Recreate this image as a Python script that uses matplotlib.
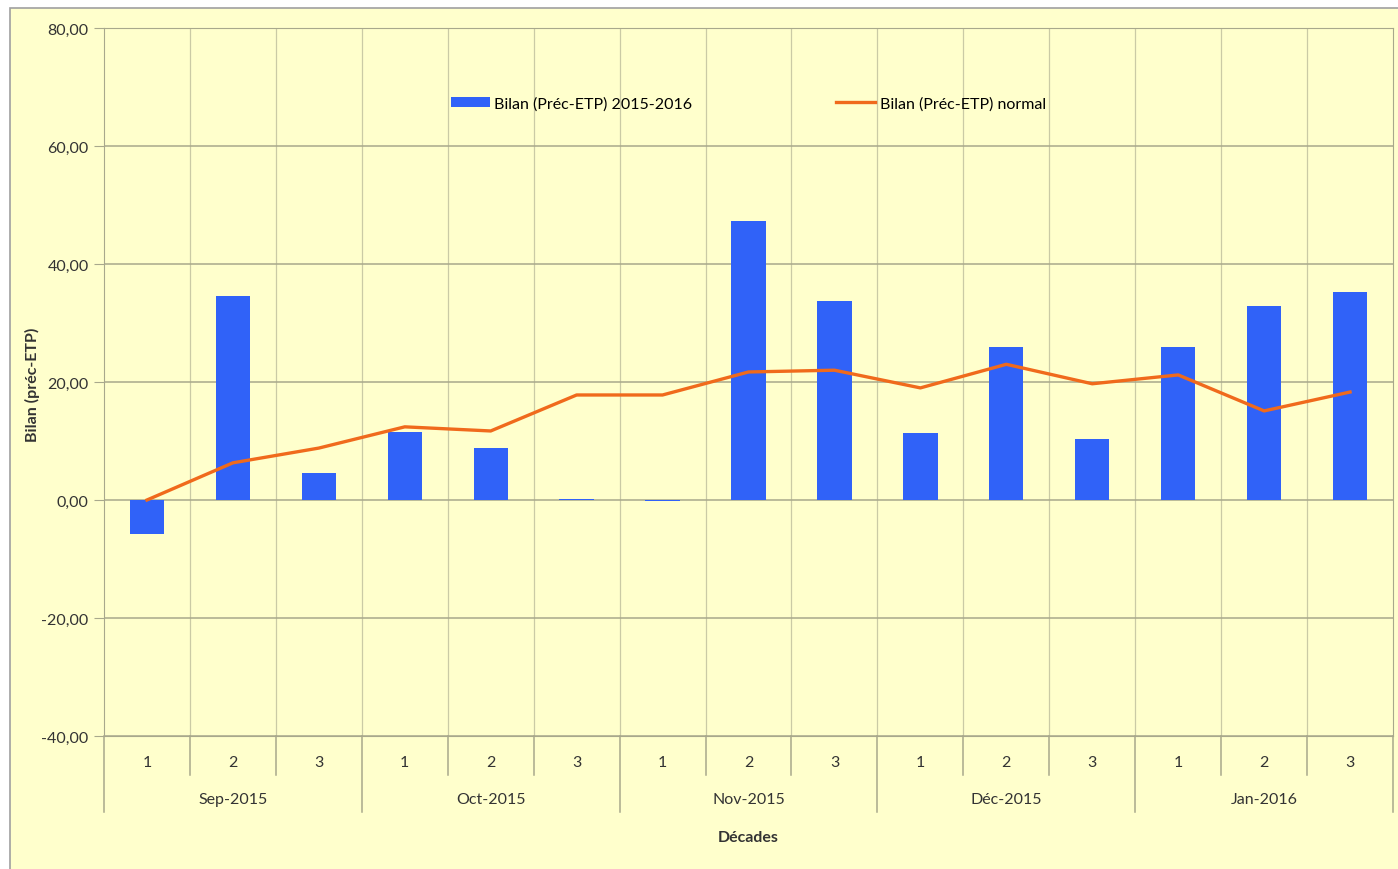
import numpy as np
import matplotlib.pyplot as plt
import matplotlib.transforms as mtransforms
from matplotlib.patches import Rectangle

# Données
mois = ['Sep-2015', 'Oct-2015', 'Nov-2015', 'Déc-2015', 'Jan-2016']
decades = ['1', '2', '3']
bilan_2015_2016 = [-5.7, 34.6, 4.6, 11.5, 8.8, 0.2, -0.2, 47.3, 33.7,
                   11.4, 25.9, 10.3, 25.9, 32.9, 35.3]
bilan_normal = [0.0, 6.3, 8.8, 12.4, 11.7, 17.8, 17.8, 21.7, 22.0,
                19.0, 23.0, 19.7, 21.2, 15.1, 18.3]
y_ticks = [-40, -20, 0, 20, 40, 60, 80]

fond = '#FFFFCC'
grille = '#A8A88C'
bleu = '#3062F8'
orange = '#F06A1C'

plt.rcParams['font.family'] = ['Lato', 'DejaVu Sans']

fig = plt.figure(figsize=(13.98, 8.70), dpi=100, facecolor='white')
cadre = Rectangle((10 / 1398, -0.01), 1.0, 1 - 9 / 870 + 0.01,
                  transform=fig.transFigure, facecolor=fond,
                  edgecolor='#A0A0A0', linewidth=1.2, zorder=-10)
fig.add_artist(cadre)

ax = fig.add_axes([104 / 1398, 1 - 737 / 870, (1393 - 104) / 1398, 708 / 870])
ax.set_zorder(5)
ax.set_facecolor(fond)

n = len(bilan_2015_2016)
x = np.arange(n)
barres = ax.bar(x, bilan_2015_2016, width=0.4, color=bleu, zorder=3,
                label='Bilan (Préc-ETP) 2015-2016')
ligne, = ax.plot(x, bilan_normal, color=orange, linewidth=2.4, zorder=4,
                 label='Bilan (Préc-ETP) normal')

ax.set_xlim(-0.5, n - 0.5)
ax.set_ylim(-40, 80)
ax.set_yticks(y_ticks)
ax.set_yticklabels([f'{v:.2f}'.replace('.', ',') for v in y_ticks])
ax.tick_params(axis='y', length=7, color=grille, labelsize=11.5,
               labelcolor='#333333', pad=4)
ax.set_xticks([])

# grille
for v in y_ticks:
    ax.axhline(v, color=grille, linewidth=1.1, zorder=1)
for k in range(1, n):
    ax.axvline(k - 0.5, color=grille, linewidth=0.9, alpha=0.6, zorder=1)
for s in ax.spines.values():
    s.set_color(grille)

# axe des x à deux niveaux
trans = mtransforms.blended_transform_factory(ax.transData, ax.transAxes)
for i in range(n):
    ax.text(i, -0.037, decades[i % 3], transform=trans, ha='center',
            va='center', fontsize=11.5, color='#333333')
for k in range(0, n + 1):
    bas = -0.107 if k % 3 == 0 else -0.055
    ax.plot([k - 0.5, k - 0.5], [0, bas], transform=trans, color=grille,
            linewidth=1.1, clip_on=False)
for j, m in enumerate(mois):
    ax.text(3 * j + 1, -0.089, m, transform=trans, ha='center', va='center',
            fontsize=11.5, color='#333333')

fig.text((104 + 1393) / 2 / 1398, 1 - 838 / 870, 'Décades', ha='center',
         va='center', fontsize=11.5, fontweight='bold', color='#333333')
fig.text(32 / 1398, 1 - 385 / 870, 'Bilan (préc-ETP)', rotation=90,
         ha='center', va='center', fontsize=11.5, fontweight='bold',
         color='#333333')

ax.legend(handles=[barres, ligne], loc='center', bbox_to_anchor=(0.5, 0.894),
          ncol=2, frameon=False, fontsize=11.5, handlelength=2.4,
          handleheight=0.6, handletextpad=0.3, columnspacing=9.0)

fig.savefig('out.png', dpi=100, facecolor=fig.get_facecolor())
